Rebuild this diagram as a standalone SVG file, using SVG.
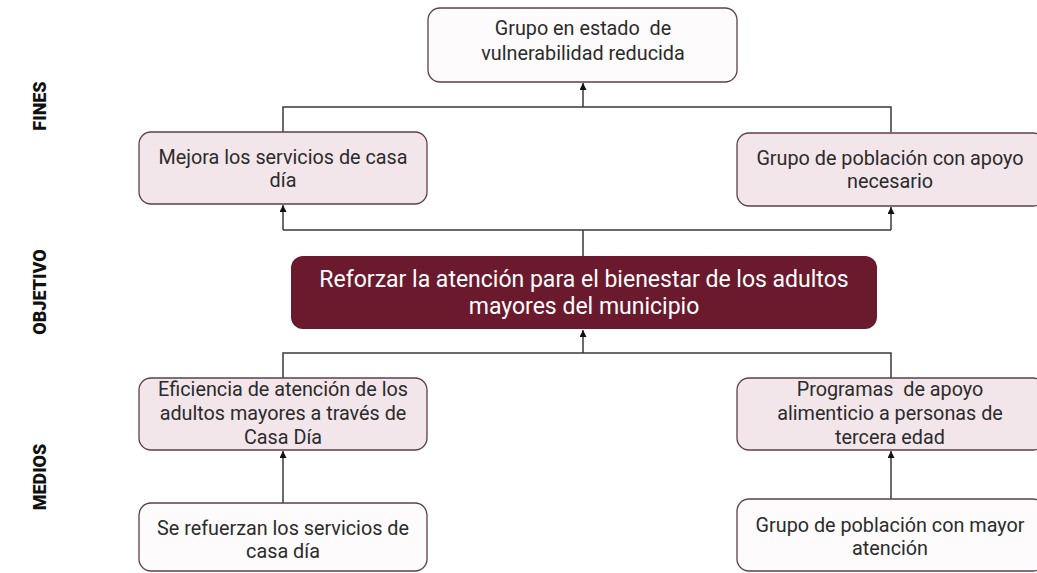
<svg xmlns="http://www.w3.org/2000/svg" width="1037" height="573" viewBox="0 0 1037 573">
<style>
  .lbl { font-family: Roboto, "Liberation Sans", Arial, sans-serif; font-weight: 900; font-size: 18px; fill: #111; text-anchor: middle; }
  .box { stroke: #5e4047; stroke-width: 1.3; }
  .pink { fill: #f3e6ea; }
  .white { fill: #fdfbfb; }
  .obj { fill: #6b1a2e; stroke: none; }
  .t { font-family: Roboto, "Liberation Sans", Arial, sans-serif; font-size: 19.8px; fill: #2b2b2b; text-anchor: middle; white-space: pre; }
  .to { font-family: Roboto, "Liberation Sans", Arial, sans-serif; font-size: 23px; fill: #ffffff; text-anchor: middle; }
  .con { fill: none; stroke: #3a3a3a; stroke-width: 1.5; }
</style>
<defs>
  <marker id="arr" viewBox="0 0 10 10" refX="10" refY="5" markerWidth="7" markerHeight="7" orient="auto" markerUnits="userSpaceOnUse">
    <path d="M0,0 L10,5 L0,10 Z" fill="#111"/>
  </marker>
</defs>
<rect width="1037" height="573" fill="#ffffff"/>

<g id="labels">
  <text class="lbl" transform="translate(46,106) rotate(-90)">FINES</text>
  <text class="lbl" transform="translate(46,292) rotate(-90)">OBJETIVO</text>
  <text class="lbl" transform="translate(46,477) rotate(-90)">MEDIOS</text>
</g>

<g id="connectors">
  <path class="con" d="M283,132 V107 H891 V132"/>
  <path class="con" d="M583,107 V83" marker-end="url(#arr)"/>
  <path class="con" d="M583,256 V230 M283,230 H891"/>
  <path class="con" d="M283,230 V205" marker-end="url(#arr)"/>
  <path class="con" d="M891,230 V207" marker-end="url(#arr)"/>
  <path class="con" d="M283,378 V353 H891 V378"/>
  <path class="con" d="M583,353 V330" marker-end="url(#arr)"/>
  <path class="con" d="M283,503 V451" marker-end="url(#arr)"/>
  <path class="con" d="M891,499 V451" marker-end="url(#arr)"/>
</g>

<g id="fin-top">
  <rect class="box white" x="428" y="8" width="309" height="74" rx="12"/>
  <text class="t" x="583" y="35" xml:space="preserve">Grupo en estado  de</text>
  <text class="t" x="583" y="60">vulnerabilidad reducida</text>
</g>

<g id="fin-left">
  <rect class="box pink" x="139" y="132" width="288" height="72" rx="12"/>
  <text class="t" x="283" y="164">Mejora los servicios de casa</text>
  <text class="t" x="283" y="187">día</text>
</g>

<g id="fin-right">
  <rect class="box pink" x="737" y="133" width="308" height="73" rx="12"/>
  <text class="t" x="890" y="165">Grupo de población con apoyo</text>
  <text class="t" x="890" y="188">necesario</text>
</g>

<g id="objetivo">
  <rect class="obj" x="291" y="256" width="586" height="73" rx="12"/>
  <text class="to" x="584" y="287">Reforzar la atención para el bienestar de los adultos</text>
  <text class="to" x="584" y="314">mayores del municipio</text>
</g>

<g id="medio-left">
  <rect class="box pink" x="139" y="378" width="288" height="72" rx="12"/>
  <text class="t" x="283" y="396">Eficiencia de atención de los</text>
  <text class="t" x="283" y="420">adultos mayores a través de</text>
  <text class="t" x="283" y="444">Casa Día</text>
</g>

<g id="medio-right">
  <rect class="box pink" x="737" y="378" width="308" height="72" rx="12"/>
  <text class="t" x="890" y="396" xml:space="preserve">Programas  de apoyo</text>
  <text class="t" x="890" y="420">alimenticio a personas de</text>
  <text class="t" x="890" y="444">tercera edad</text>
</g>

<g id="causa-left">
  <rect class="box white" x="139" y="503" width="288" height="68" rx="12"/>
  <text class="t" x="283" y="535">Se refuerzan los servicios de</text>
  <text class="t" x="283" y="558">casa día</text>
</g>

<g id="causa-right">
  <rect class="box white" x="737" y="499" width="308" height="72" rx="12"/>
  <text class="t" x="890" y="532">Grupo de población con mayor</text>
  <text class="t" x="890" y="555">atención</text>
</g>
</svg>
